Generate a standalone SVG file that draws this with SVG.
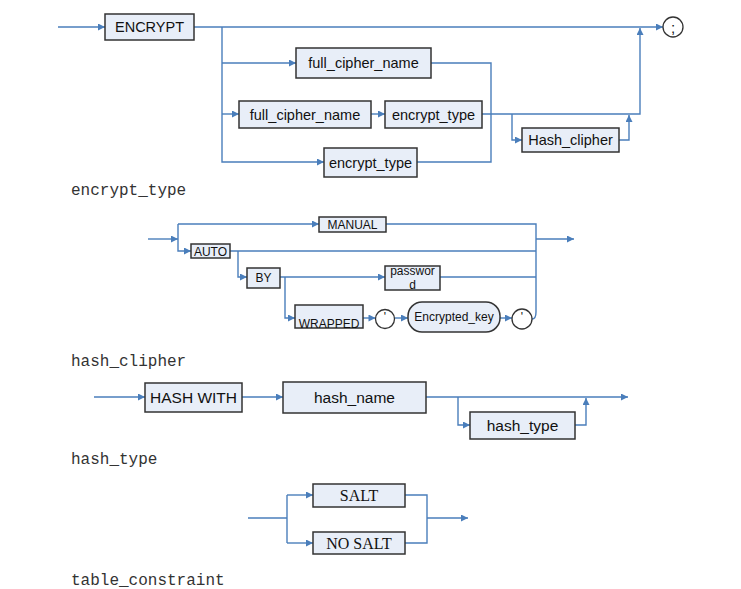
<svg xmlns="http://www.w3.org/2000/svg" width="741" height="589" viewBox="0 0 741 589">
<defs>
<marker id="ar" viewBox="0 0 10 10" refX="10" refY="5" markerWidth="8" markerHeight="7" markerUnits="userSpaceOnUse" orient="auto">
<path d="M0,0 L10,5 L0,10 z" fill="#4a7ebb"/>
</marker>
</defs>
<style>
.bx{fill:#e8eef8;stroke:#333;stroke-width:1.5}
.ln{fill:none;stroke:#4a7ebb;stroke-width:1.4}
.a{marker-end:url(#ar)}
.t{font-family:"Liberation Sans",Arial,sans-serif;fill:#111;text-anchor:middle;dominant-baseline:central}
.t1{font-size:14.5px}
.t2{font-size:15.5px}
.t3{font-size:12px}
.ts{font-family:"Liberation Serif","Times New Roman",serif;font-size:16px;fill:#111;text-anchor:middle;dominant-baseline:central}
.lb{font-family:"Liberation Mono","Courier New",monospace;font-size:16px;fill:#333}
</style>
<rect width="741" height="589" fill="#fff"/>
<g id="connectors">
<!-- section 1 -->
<path class="ln a" d="M58,27 H105"/>
<path class="ln a" d="M194,27 H663"/>
<path class="ln a" d="M222,27 V162 H324"/>
<path class="ln a" d="M222,63 H296"/>
<path class="ln a" d="M222,114 H239"/>
<path class="ln a" d="M371,114 H385"/>
<path class="ln" d="M431,63 H491 V162 H417"/>
<path class="ln a" d="M482,114 H640 V28"/>
<path class="ln a" d="M512,114 V140 H522"/>
<path class="ln a" d="M619,140 H629 V115"/>
<!-- section 2 -->
<path class="ln a" d="M148,239 H178"/>
<path class="ln a" d="M178,224 H319"/>
<path class="ln a" d="M178,224 V251 H191"/>
<path class="ln" d="M386,224 H536 V312 Q536,319 532,319"/>
<path class="ln" d="M230,251 H536"/>
<path class="ln a" d="M536,239 H574"/>
<path class="ln a" d="M238,251 V277 H247"/>
<path class="ln a" d="M280,277 H385"/>
<path class="ln" d="M440,277 H536"/>
<path class="ln a" d="M285,277 V318 H295"/>
<path class="ln a" d="M363,318 H375.5"/>
<path class="ln a" d="M394.5,318 H408"/>
<path class="ln a" d="M500,318 H512"/>
<!-- section 3 -->
<path class="ln a" d="M94,397 H145"/>
<path class="ln a" d="M242,397 H283"/>
<path class="ln a" d="M426,397 H628"/>
<path class="ln a" d="M458,397 V425 H470"/>
<path class="ln a" d="M575,425 H586 V398"/>
<!-- section 4 -->
<path class="ln" d="M248,518 H287"/>
<path class="ln" d="M287,495 V543"/>
<path class="ln a" d="M287,495 H313"/>
<path class="ln a" d="M287,543 H313"/>
<path class="ln" d="M405,495 H427 V543 H405"/>
<path class="ln a" d="M427,518 H468"/>
</g>
<g id="encrypt"><rect class="bx" x="105" y="14" width="89" height="26"/><text class="t t1" x="149.5" y="27">ENCRYPT</text></g>
<g id="semicolon"><circle cx="673" cy="27" r="10" fill="#fff" stroke="#333" stroke-width="1.3"/><text class="t" x="673" y="27" font-size="15">;</text></g>
<g id="full_cipher_name1"><rect class="bx" x="296" y="48" width="135" height="30"/><text class="t t1" x="363.5" y="63">full_cipher_name</text></g>
<g id="full_cipher_name2"><rect class="bx" x="239" y="101" width="132" height="27"/><text class="t t1" x="305" y="114.5">full_cipher_name</text></g>
<g id="encrypt_type1"><rect class="bx" x="385" y="101" width="97" height="27"/><text class="t t1" x="433.5" y="114.5">encrypt_type</text></g>
<g id="encrypt_type2"><rect class="bx" x="324" y="148" width="93" height="29"/><text class="t t1" x="370.5" y="162.5">encrypt_type</text></g>
<g id="hash_clipher_box"><rect class="bx" x="522" y="128" width="97" height="24"/><text class="t t1" x="570.5" y="140">Hash_clipher</text></g>
<g id="label_encrypt_type"><text class="lb" x="71" y="195">encrypt_type</text></g>

<g id="manual"><rect class="bx" x="319" y="217" width="67" height="15"/><text class="t t3" x="352.5" y="224.5">MANUAL</text></g>
<g id="auto"><rect class="bx" x="191" y="244" width="39" height="14"/><text class="t t3" x="210.5" y="251.5">AUTO</text></g>
<g id="by"><rect class="bx" x="247" y="268" width="33" height="20"/><text class="t t3" x="263.5" y="278">BY</text></g>
<g id="password"><rect class="bx" x="385" y="266" width="55" height="24"/><text class="t3" x="412.5" y="275" font-family="Liberation Sans, Arial, sans-serif" fill="#111" text-anchor="middle">passwor</text><text class="t3" x="412.5" y="289" font-family="Liberation Sans, Arial, sans-serif" fill="#111" text-anchor="middle">d</text></g>
<g id="wrapped"><rect class="bx" x="295" y="305" width="68" height="23"/><text class="t3" x="329" y="327.5" font-family="Liberation Sans, Arial, sans-serif" fill="#111" text-anchor="middle">WRAPPED</text></g>
<g id="quote1"><circle cx="385" cy="319" r="9.5" fill="#fff" stroke="#333" stroke-width="1.3"/><text class="t t3" x="385" y="317">'</text></g>
<g id="encrypted_key"><rect class="bx" x="408" y="302" width="92" height="30" rx="14" ry="14"/><text class="t t3" x="454" y="317">Encrypted_key</text></g>
<g id="quote2"><circle cx="522" cy="319" r="10" fill="#fff" stroke="#333" stroke-width="1.3"/><text class="t t3" x="522" y="317">'</text></g>
<g id="label_hash_clipher"><text class="lb" x="71" y="366">hash_clipher</text></g>

<g id="hash_with"><rect class="bx" x="145" y="383" width="97" height="29"/><text class="t t2" x="193.5" y="397.5">HASH WITH</text></g>
<g id="hash_name"><rect class="bx" x="283" y="382" width="143" height="31"/><text class="t t2" x="354.5" y="397.5">hash_name</text></g>
<g id="hash_type"><rect class="bx" x="470" y="412" width="105" height="27"/><text class="t t2" x="522.5" y="425.5">hash_type</text></g>
<g id="label_hash_type"><text class="lb" x="71" y="464">hash_type</text></g>

<g id="salt"><rect class="bx" x="313" y="484" width="92" height="23"/><text class="ts" x="359" y="495.5">SALT</text></g>
<g id="no_salt"><rect class="bx" x="313" y="532" width="92" height="22"/><text class="ts" x="359" y="543">NO SALT</text></g>
<g id="label_table_constraint"><text class="lb" x="71" y="585">table_constraint</text></g>
</svg>
